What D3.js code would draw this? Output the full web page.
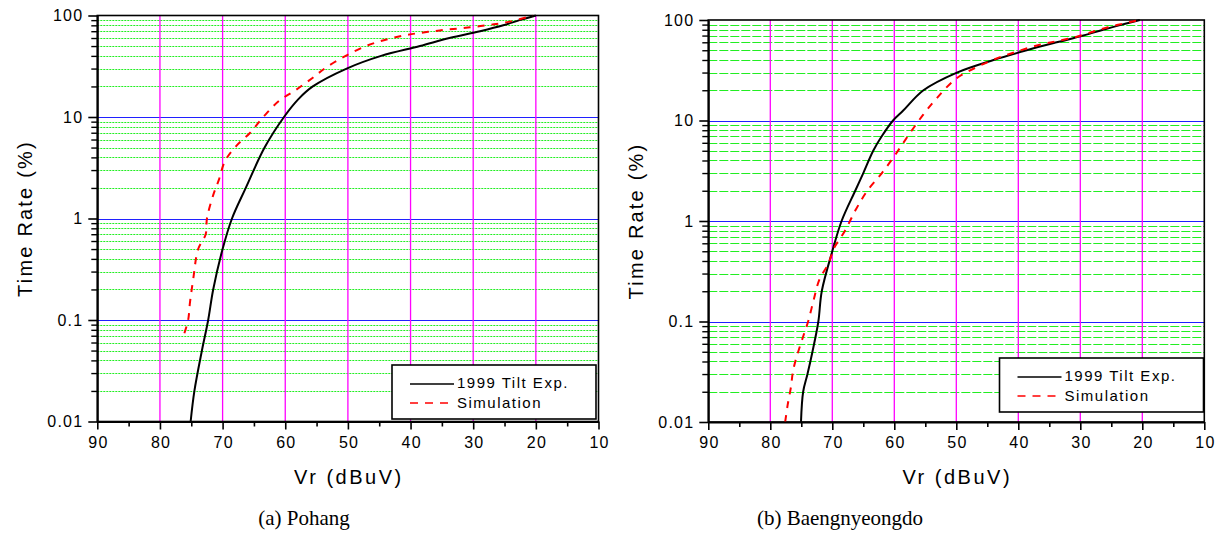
<!DOCTYPE html>
<html>
<head>
<meta charset="utf-8">
<script src="https://cdn.jsdelivr.net/npm/d3@7"></script>
<style>
  body { margin: 0; background: #fff; }
  text { font-family: "Liberation Sans", Arial, sans-serif; fill: #000; }
  .caption { font-family: "Liberation Serif", "Times New Roman", serif; }
</style>
</head>
<body>
<div id="chart"></div>
<script>
// axis ticks
var xMajor = [90, 80, 70, 60, 50, 40, 30, 20, 10];
var xMinor = [85, 75, 65, 55, 45, 35, 25, 15];
var yMajor = [0.01, 0.1, 1, 10, 100];
var yLabels = ["0.01", "0.1", "1", "10", "100"];

// (a) Pohang : [Vr dBuV, time rate %]
var pohangExp = [[75.1, 0.01], [74.5, 0.02], [73.3, 0.05], [72.3, 0.1], [71.5, 0.2], [70.0, 0.5],
  [68.5, 1], [66.3, 2], [63.3, 5], [60.2, 10], [57.9, 15], [55.6, 20], [50.2, 30], [44.7, 40],
  [38.5, 50], [33.8, 60], [28.9, 70], [25.2, 80], [22.6, 90], [20.0, 100]];
var pohangSim = [[76.1, 0.074], [75.5, 0.1], [75.2, 0.15], [74.7, 0.25], [73.9, 0.5], [72.7, 0.7],
  [72.5, 1], [71.5, 1.7], [70.6, 2.4], [69.6, 3.7], [67.8, 5.2], [65.6, 7], [63.5, 10],
  [61.0, 14.4], [58.4, 18.3], [55.6, 24.4], [53.4, 31], [50.2, 40.5], [46.8, 50.9], [43.6, 58.5],
  [40.4, 64.6], [37.2, 69], [33.8, 73], [30.5, 76.5], [27.4, 80.8], [24.2, 87], [20.5, 100]];

// (b) Baengnyeongdo
var baengExp = [[75.05, 0.01], [74.7, 0.02], [74.0, 0.03], [73.2, 0.05], [72.25, 0.1], [71.7, 0.2],
  [70.0, 0.5], [68.5, 1], [66.3, 2], [65.0, 3], [63.4, 5], [62.0, 7], [60.2, 10], [58.6, 12.5],
  [55.3, 20], [49.9, 30], [44.0, 40], [38.65, 50], [33.8, 60], [29.5, 70], [26.3, 80], [23.3, 90],
  [20.4, 100]];
var baengSim = [[77.6, 0.01], [77.2, 0.0148], [76.7, 0.0217], [76.3, 0.033], [75.5, 0.05],
  [74.7, 0.071], [73.9, 0.1], [73.0, 0.164], [72.1, 0.26], [70.6, 0.38], [69.7, 0.54], [68.0, 0.79],
  [66.2, 1.3], [64.4, 1.98], [62.0, 3.0], [59.7, 4.7], [57.6, 7.3], [55.3, 11.5], [53.1, 16.8],
  [50.2, 25.6], [47.0, 33.3], [43.5, 41.4], [40.5, 47.9], [37.0, 55.8], [33.8, 61.6], [30.3, 68.9],
  [27.1, 79.5], [24.1, 89], [20.9, 98.5], [20.4, 100]];

var legendNames = ["1999 Tilt Exp.", "Simulation"];

var svg = d3.select("#chart").append("svg")
    .attr("width", 1221)
    .attr("height", 542);

function drawPanel(cfg) {
    var x = d3.scaleLinear().domain([90, 10]).range([cfg.left, cfg.right]);
    var y = d3.scaleLog().domain([0.01, 100]).range([cfg.bottom, cfg.top]);
    var g = svg.append("g");

    // minor y grid (2..9 of each decade)
    var minors = [];
    [0.01, 0.1, 1, 10].forEach(function (d) {
        for (var k = 2; k <= 9; k++) minors.push(d * k);
    });
    g.selectAll(".gm").data(minors).enter().append("line")
        .attr("x1", cfg.left).attr("x2", cfg.right)
        .attr("y1", function (d) { return Math.round(y(d)) + 0.5; })
        .attr("y2", function (d) { return Math.round(y(d)) + 0.5; })
        .attr("stroke", "#22ee22")
        .attr("stroke-width", 1)
        .attr("stroke-dasharray", cfg.dash);

    // major y grid (blue)
    g.selectAll(".gM").data([0.01, 0.1, 1, 10]).enter().append("line")
        .attr("x1", cfg.left).attr("x2", cfg.right)
        .attr("y1", function (d) { return Math.round(y(d)) + 0.5; })
        .attr("y2", function (d) { return Math.round(y(d)) + 0.5; })
        .attr("stroke", "#2020ff")
        .attr("stroke-width", 1.2);

    // vertical grid (magenta)
    g.selectAll(".gv").data([80, 70, 60, 50, 40, 30, 20]).enter().append("line")
        .attr("x1", function (d) { return x(d); }).attr("x2", function (d) { return x(d); })
        .attr("y1", cfg.top).attr("y2", cfg.bottom)
        .attr("stroke", "#ff00ff")
        .attr("stroke-width", 1.3);

    // frame
    g.append("rect")
        .attr("x", cfg.left).attr("y", cfg.top)
        .attr("width", cfg.right - cfg.left).attr("height", cfg.bottom - cfg.top)
        .attr("fill", "none").attr("stroke", "#000").attr("stroke-width", 1.6);

    // curves
    var line = d3.line()
        .curve(d3.curveCatmullRom.alpha(0.5))
        .x(function (d) { return x(d[0]); })
        .y(function (d) { return y(d[1]); });

    g.append("path").datum(cfg.exp)
        .attr("d", line)
        .attr("fill", "none").attr("stroke", "#000").attr("stroke-width", 2);

    g.append("path").datum(cfg.sim)
        .attr("d", line)
        .attr("fill", "none").attr("stroke", "#ff0000").attr("stroke-width", 2)
        .attr("stroke-dasharray", "7,7");

    // x axis
    var xAxis = d3.axisBottom(x).tickValues(xMajor).tickSize(8).tickSizeOuter(0).tickPadding(7);
    var ax = g.append("g").attr("transform", "translate(0," + cfg.bottom + ")").call(xAxis);
    ax.selectAll(".tick line").attr("stroke-width", 1.6);
    ax.select(".domain").attr("stroke-width", 2);
    ax.selectAll("text").attr("font-size", 16).attr("letter-spacing", 1.2).attr("dx", 0.6)
        .attr("font-family", "Liberation Sans, Arial, sans-serif");
    g.append("g").attr("transform", "translate(0," + cfg.bottom + ")")
        .call(d3.axisBottom(x).tickValues(xMinor).tickSize(5).tickFormat(""))
        .call(function (s) { s.select(".domain").remove(); s.selectAll("line").attr("stroke-width", 1.6); });

    // y axis
    var yAxis = d3.axisLeft(y).tickValues(yMajor).tickSize(9).tickSizeOuter(0).tickPadding(5)
        .tickFormat(function (d, i) { return yLabels[i]; });
    var ay = g.append("g").attr("transform", "translate(" + cfg.left + ",0)").call(yAxis);
    ay.selectAll(".tick line").attr("stroke-width", 1.6);
    ay.select(".domain").attr("stroke-width", 2);
    ay.selectAll("text").attr("font-size", 16).attr("letter-spacing", 1.2)
        .attr("font-family", "Liberation Sans, Arial, sans-serif");
    g.append("g").attr("transform", "translate(" + cfg.left + ",0)")
        .call(d3.axisLeft(y).tickValues(minors).tickSize(6).tickFormat(""))
        .call(function (s) { s.select(".domain").remove(); s.selectAll("line").attr("stroke-width", 1.4); });

    // axis titles
    g.append("text")
        .attr("x", (cfg.left + cfg.right) / 2 + 1).attr("y", cfg.bottom + 62)
        .attr("text-anchor", "middle").attr("font-size", 20).attr("letter-spacing", 2.5)
        .text("Vr (dBuV)");
    g.append("text")
        .attr("transform", "translate(" + (cfg.left - 65) + "," + ((cfg.top + cfg.bottom) / 2) + ") rotate(-90)")
        .attr("text-anchor", "middle").attr("font-size", 20).attr("letter-spacing", 2.2)
        .text("Time Rate (%)");

    // legend
    var lg = g.append("g").attr("transform", "translate(" + cfg.legX + "," + cfg.legY + ")");
    lg.append("rect").attr("width", 204).attr("height", 54)
        .attr("fill", "#fff").attr("stroke", "#000").attr("stroke-width", 1.6);
    lg.append("line").attr("x1", 18).attr("x2", 62).attr("y1", 19).attr("y2", 19)
        .attr("stroke", "#000").attr("stroke-width", 1.5);
    lg.append("line").attr("x1", 18).attr("x2", 62).attr("y1", 38).attr("y2", 38)
        .attr("stroke", "#ff0000").attr("stroke-width", 1.5).attr("stroke-dasharray", "8,7");
    lg.selectAll(".lt").data(legendNames).enter().append("text")
        .attr("x", 65).attr("y", function (d, i) { return 23 + i * 20; })
        .attr("font-size", 15).attr("letter-spacing", 1.5)
        .text(function (d) { return d; });

    // caption
    svg.append("text").attr("class", "caption")
        .attr("x", cfg.capX).attr("y", 525)
        .attr("text-anchor", "middle").attr("font-size", 21)
        .text(cfg.caption);
}

drawPanel({ left: 97.3, right: 598.5, top: 15.5, bottom: 421.5, exp: pohangExp, sim: pohangSim,
    dash: "2,1", legX: 392, legY: 365, capX: 304, caption: "(a) Pohang" });
drawPanel({ left: 708.3, right: 1204.3, top: 20, bottom: 422, exp: baengExp, sim: baengSim,
    dash: "9,2", legX: 999.5, legY: 358, capX: 840, caption: "(b) Baengnyeongdo" });
</script>
</body>
</html>
